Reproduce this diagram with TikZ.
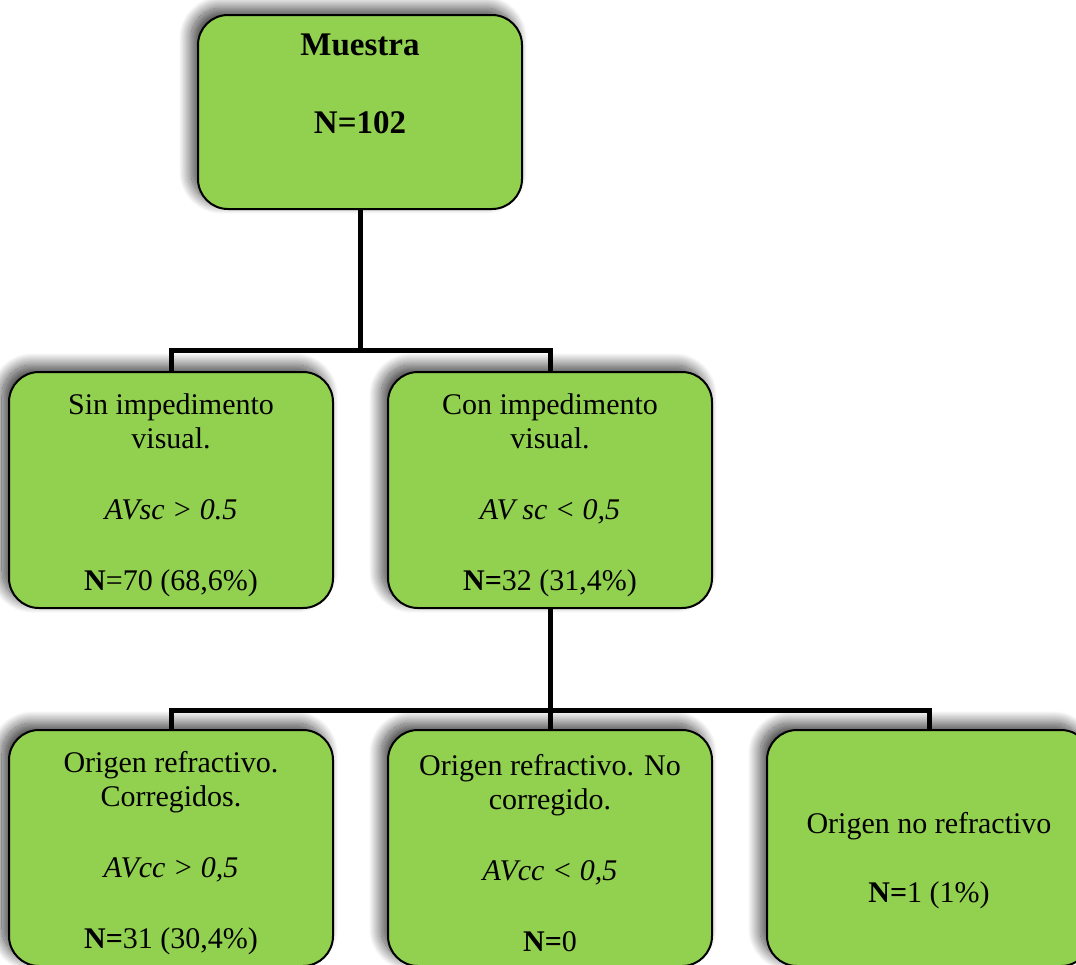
\documentclass[tikz,border=0pt]{standalone}
\usepackage{fontspec}
\setmainfont{Liberation Serif}
\usetikzlibrary{shadows.blur}
\definecolor{cgreen}{HTML}{92D050}
\tikzset{
  every picture/.style={line width=2pt},
  box/.style={draw=black, fill=cgreen, rounded corners=30pt, align=center, inner sep=0pt,
    minimum width=324pt, minimum height=236pt,
    blur shadow={shadow xshift=-7pt, shadow yshift=7pt, shadow blur radius=12pt,
      shadow blur steps=30, shadow opacity=75},
    font=\fontsize{30}{34}\selectfont},
  link/.style={draw=black, line width=5pt},
}

\begin{document}
\begin{tikzpicture}[x=1pt, y=-1pt]
  \useasboundingbox (0,0) rectangle (1076,964);
  \node[box, minimum height=194pt, font=\fontsize{33}{39}\selectfont\bfseries] (m) at (360,112) {Muestra\\[39pt]N=102\\[17pt]~};
  \node[box] (s) at (171,490) {~\\[-2pt]Sin impedimento\\visual.\\[37pt]\textit{AVsc > 0.5}\\[37pt]\textbf{N}=70 (68,6\%)};
  \node[box] (c) at (550,490) {~\\[-2pt]Con impedimento\\visual.\\[37pt]\textit{AV sc < 0,5}\\[37pt]\textbf{N=}32 (31,4\%)};
  \node[box] (rc) at (171,848) {~\\[-2pt]Origen refractivo.\\Corregidos.\\[37pt]\textit{AVcc > 0,5}\\[37pt]\textbf{N=}31 (30,4\%)};
  \node[box] (rn) at (550,848) {~\\[-2pt]Origen refractivo. No\\corregido.\\[37pt]\textit{AVcc < 0,5}\\[37pt]\textbf{N=}0};
  \node[box] (nr) at (929,848) {~\\[12pt]Origen no refractivo\\[35pt]\textbf{N=}1 (1\%)};
  % ramas
  \coordinate (b1) at (360,350);
  \coordinate (b2) at (550,710);
  \draw[link] (m.south) -- (b1);
  \draw[link] (b1) -| (s.north);
  \draw[link] (b1) -| (c.north);
  \draw[link] (c.south) -- (b2);
  \draw[link] (b2) -| (rc.north);
  \draw[link] (b2) -- (rn.north);
  \draw[link] (b2) -| (nr.north);
\end{tikzpicture}
\end{document}
